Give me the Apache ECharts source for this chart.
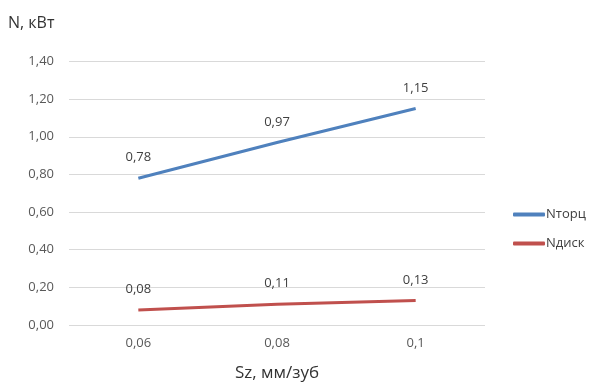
<!DOCTYPE html>
<html>
<head>
<meta charset="utf-8">
<script src="https://cdn.jsdelivr.net/npm/echarts@6/dist/echarts.min.js"></script>
<style>
  html, body { margin: 0; padding: 0; background: #fff; }
  #chart { width: 591px; height: 383px; }
</style>
</head>
<body>
<div id="chart"></div>
<script>
// Feed per tooth values (x axis)
const categories = ['0,06', '0,08', '0,1'];
// Power, kW
const nTorc = [0.78, 0.97, 1.15];
const nDisk = [0.08, 0.11, 0.13];
const seriesNames = ['Nторц', 'Nдиск'];

const comma = (v) => v.toFixed(2).replace('.', ',');
const FONT = '"Open Sans", sans-serif';

const chart = echarts.init(document.getElementById('chart'), null, { renderer: 'canvas' });

// labels need a symbol to hang on, so keep a zero-size one
const lineSeries = (name, data, color) => ({
  name,
  type: 'line',
  data,
  symbol: 'circle',
  symbolSize: 0,
  showSymbol: true,
  lineStyle: { color, width: 3 },
  itemStyle: { color },
  label: {
    show: true,
    position: 'top',
    distance: 14,
    color: '#404040',
    fontSize: 13,
    fontFamily: FONT,
    formatter: (p) => comma(p.value)
  }
});

chart.setOption({
  backgroundColor: '#fff',
  animation: false,
  textStyle: { fontFamily: FONT },
  grid: { left: 69, right: 106, top: 61.5, bottom: 58, outerBoundsMode: 'none' },
  legend: {
    orient: 'vertical',
    left: 508,
    top: 203,
    itemWidth: 32,
    itemHeight: 4,
    itemGap: 16,
    icon: 'roundRect',
    textStyle: { color: '#404040', fontSize: 13, fontFamily: FONT, padding: [0, 0, 0, -4] },
    data: seriesNames
  },
  xAxis: {
    type: 'category',
    data: categories,
    name: 'Sz, мм/зуб',
    nameLocation: 'middle',
    nameGap: 40,
    nameTextStyle: { color: '#333', fontSize: 17, fontFamily: FONT },
    axisLine: { show: false },
    axisTick: { show: false },
    axisLabel: { color: '#595959', fontSize: 13, margin: 12 }
  },
  yAxis: {
    type: 'value',
    min: 0,
    max: 1.4,
    interval: 0.2,
    name: 'N, кВт',
    nameLocation: 'end',
    nameGap: 0,
    nameTextStyle: { color: '#333', fontSize: 16, fontFamily: FONT, align: 'left', padding: [0, 0, 30, -61] },
    axisLine: { show: false },
    axisTick: { show: false },
    axisLabel: { color: '#595959', fontSize: 13, margin: 15, formatter: (v) => comma(v) },
    splitLine: { lineStyle: { color: '#d9d9d9', width: 1 } }
  },
  series: [
    lineSeries(seriesNames[0], nTorc, '#4f81bd'),
    lineSeries(seriesNames[1], nDisk, '#c0504d')
  ]
});
</script>
</body>
</html>
